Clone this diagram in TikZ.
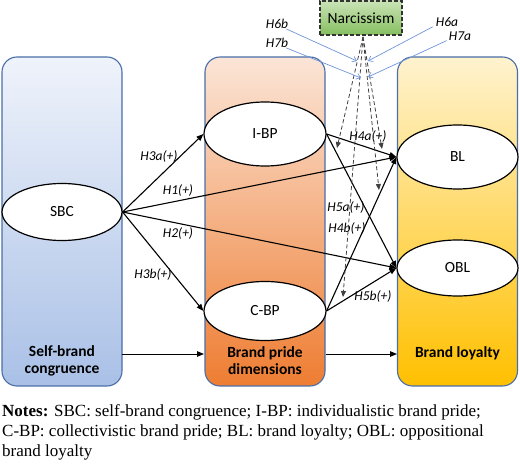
\documentclass[tikz,border=0pt]{standalone}
\usepackage{fontspec}
\setmainfont{Carlito}
\newfontfamily\notesfont{Liberation Serif}
\usetikzlibrary{arrows.meta,shapes.geometric}
\definecolor{boxline}{HTML}{4A6EA8}
\definecolor{bluetop}{HTML}{EFF3FB}
\definecolor{bluebot}{HTML}{A9C0E6}
\definecolor{orgtop}{HTML}{FBE5D7}
\definecolor{orgbot}{HTML}{EE7D32}
\definecolor{yeltop}{HTML}{FFF3CF}
\definecolor{yelbot}{HTML}{FFC000}
\definecolor{grntop}{HTML}{C9E3B7}
\definecolor{grnbot}{HTML}{86BF5F}
\definecolor{modblue}{HTML}{6F94DA}
\begin{document}
\begin{tikzpicture}[x=1pt,y=-1pt,
  colbox/.style={draw=boxline, line width=1.1pt, rounded corners=15pt, minimum width=120pt, minimum height=329pt, inner sep=0pt},
  ell/.style={ellipse, draw=black, line width=1.2pt, fill=white, inner sep=0pt, font=\fontsize{15.5}{18}\selectfont},
  collab/.style={font=\fontsize{15.5}{17}\selectfont\bfseries, align=center, inner sep=0pt},
  hlab/.style={font=\fontsize{13.5}{15}\selectfont\itshape, inner sep=0pt},
  arr/.style={line width=1.1pt, -{Triangle[length=7pt,width=5.5pt]}},
  darr/.style={draw=black!75, line width=0.8pt, dash pattern=on 4pt off 2.5pt, -{Triangle[length=6pt,width=5pt]}},
  barr/.style={draw=modblue, line width=0.7pt, -{Straight Barb[length=4pt,width=6pt]}}
]
\useasboundingbox (0,0) rectangle (520,470);

% columns
\node[colbox, top color=bluetop, bottom color=bluebot] (c1) at (62,221.5) {};
\node[colbox, top color=orgtop, bottom color=orgbot] (c2) at (265,221.5) {};
\node[colbox, top color=yeltop, bottom color=yelbot] (c3) at (457.5,221.5) {};

\node[collab] (l1) at (62,361) {Self-brand\\congruence};
\node[collab] (l2) at (265,361) {Brand pride\\dimensions};
\node[collab] (l3) at (457.5,353) {Brand loyalty};

% moderator
\node[draw=black!80, line width=1.3pt, dash pattern=on 4pt off 2pt, top color=grntop, bottom color=grnbot,
      minimum width=82pt, minimum height=34pt, inner sep=0pt, font=\fontsize{15.5}{18}\selectfont] (nar) at (361,18) {Narcissism};

% ellipses
\node[ell, minimum width=120pt, minimum height=57pt] (sbc) at (62,212) {SBC};
\node[ell, minimum width=122pt, minimum height=64pt] (ibp) at (265,134) {I-BP};
\node[ell, minimum width=122pt, minimum height=59pt] (cbp) at (265,311) {C-BP};
\node[ell, minimum width=121pt, minimum height=64pt] (bl) at (457.5,157) {BL};
\node[ell, minimum width=121pt, minimum height=56pt] (obl) at (457.5,268) {OBL};

% bottom arrows
\coordinate (b1) at (122,354);
\coordinate (b2) at (204,354);
\coordinate (b3) at (326,354);
\coordinate (b4) at (397,354);
\draw[arr, line width=0.9pt] (b1) -- (b2);
\draw[arr, line width=0.9pt] (b3) -- (b4);

% main paths
\draw[arr] (sbc.east) -- (ibp.west);
\draw[arr] (sbc.east) -- (bl.west);
\draw[arr] (sbc.east) -- (obl.west);
\draw[arr] (sbc.east) -- (cbp.west);
\draw[arr] (ibp.east) -- (bl.west);
\draw[arr] (ibp.east) -- (obl.west);
\draw[arr] (cbp.east) -- (bl.west);
\draw[arr] (cbp.east) -- (obl.west);

\node[hlab] (h3a) at (159,157) {H3a(+)};
\node[hlab] (h1) at (178,191) {H1(+)};
\node[hlab] (h2) at (178,234) {H2(+)};
\node[hlab] (h3b) at (153,275) {H3b(+)};
\node[hlab] (h4a) at (368,137) {H4a(+)};
\node[hlab] (h5a) at (346,208) {H5a(+)};
\node[hlab] (h4b) at (347,229) {H4b(+)};
\node[hlab] (h5b) at (373,297) {H5b(+)};

% moderation (dashed)
\coordinate (nb) at (363,37);
\coordinate (m1) at (337,148);
\coordinate (m2) at (382,149);
\coordinate (m3) at (379,190);
\coordinate (m4) at (343,297);
\draw[darr] (nb) -- (m1);
\draw[darr] (nb) -- (m2);
\draw[darr] (nb) -- (m3);
\draw[darr] (nb) -- (m4);

% moderation labels (blue)
\node[hlab] (h6b) at (277,24) {H6b};
\node[hlab] (h7b) at (277,43) {H7b};
\node[hlab] (h6a) at (447,22) {H6a};
\node[hlab] (h7a) at (460,36) {H7a};
\coordinate (t6b) at (357,61);
\coordinate (t7b) at (361,78);
\coordinate (t6a) at (368,61);
\coordinate (t7a) at (368,77);
\draw[barr] ([xshift=-2pt]h6b.south east) -- (t6b);
\draw[barr] ([xshift=-2pt]h7b.south east) -- (t7b);
\draw[barr] ([xshift=-3pt]h6a.south west) -- (t6a);
\draw[barr] ([xshift=-2pt]h7a.south west) -- (t7a);

% notes
\node[anchor=north west, align=left, inner sep=0pt, font=\notesfont\fontsize{17}{20}\selectfont] (notes) at (2,404)
  {\textbf{Notes:} SBC: self-brand congruence; I-BP: individualistic brand pride;\\
   C-BP: collectivistic brand pride; BL: brand loyalty; OBL: oppositional\\
   brand loyalty};
\end{tikzpicture}
\end{document}
